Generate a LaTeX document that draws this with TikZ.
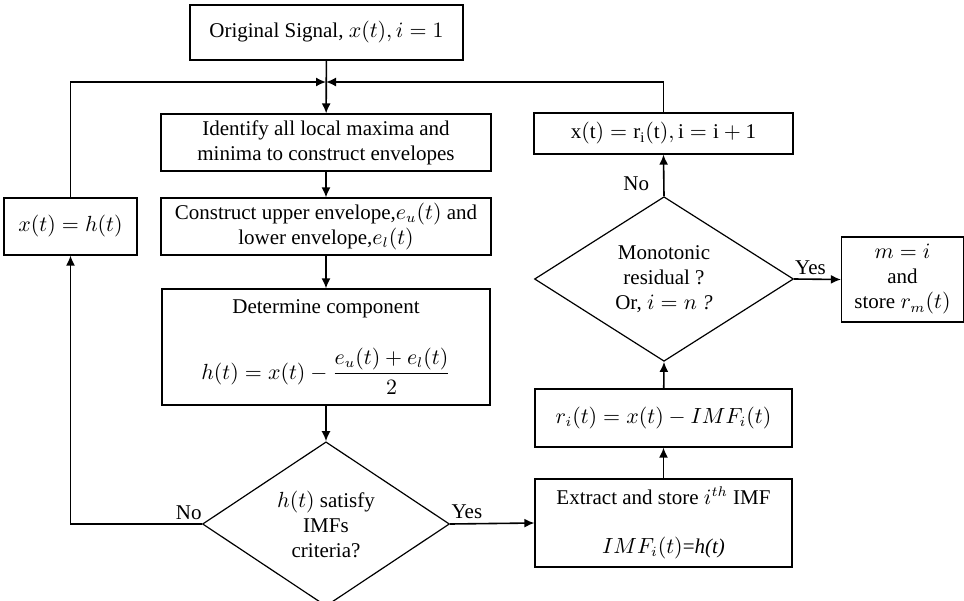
\documentclass[tikz,border=0pt]{standalone}
\usepackage{amsmath}
\usepackage{fontspec}
\setmainfont{Liberation Serif}
\usetikzlibrary{shapes.geometric,arrows.meta}

\tikzset{
    stepbox/.style={draw, line width=0.6pt, align=center, inner sep=2pt},
    decision/.style={draw, diamond, line width=0.6pt, align=center, inner sep=0pt},
    flow/.style={line width=0.8pt, -{Latex[length=5pt,width=4.5pt]}},
    answer/.style={inner sep=2pt}
}

\begin{document}
\begin{tikzpicture}[x=0.5pt, y=-0.5pt, font=\fontsize{10.5}{12.5}\selectfont]
    \useasboundingbox (0,0) rectangle (964,600);

    % Left column
    \node[stepbox, minimum width=136.5pt, minimum height=27.5pt] (orig) at (326.5,32.5) {Original Signal, $x(t), i = 1$};
    \node[stepbox, minimum width=165pt, minimum height=28.5pt] (ident) at (326,142.5) {Identify all local maxima and\\minima to construct envelopes};
    \node[stepbox, minimum width=165pt, minimum height=28.5pt] (envel) at (326,226.5) {Construct upper envelope,$e_u(t)$ and\\lower envelope,$e_l(t)$};
    \node[stepbox, minimum width=164pt, minimum height=58pt] (comp) at (326,347) {Determine component\\[14pt]$h(t) = x(t) - \dfrac{e_u(t) + e_l(t)}{2}$};
    \node[decision, minimum width=123.5pt, minimum height=73pt] (imfok) at (326,524) {$h(t)$ satisfy\\IMFs\\criteria?};
    \node[stepbox, minimum width=66.5pt, minimum height=28.5pt] (xh) at (70.5,226.5) {$x(t) = h(t)$};

    % Right column
    \node[stepbox, minimum width=128.5pt, minimum height=44pt] (extract) at (663.5,523) {Extract and store $i^{th}$ IMF\\[12pt]$IMF_i(t)$=\textit{h(t)}};
    \node[stepbox, minimum width=128.5pt, minimum height=29pt] (resid) at (663.5,418) {$r_i(t) = x(t) - IMF_i(t)$};
    \node[decision, minimum width=129.5pt, minimum height=82pt] (mono) at (664,279) {Monotonic\\residual ?\\Or, $i = n$ \textit{?}};
    \node[stepbox, minimum width=129.5pt, minimum height=20.5pt] (xr) at (663.5,133.5) {$\mathrm{x(t) = r_i(t), i = i + 1}$};
    \node[stepbox, minimum width=61pt, minimum height=42.5pt] (store) at (902.5,279.5) {$m = i$\\and\\store $r_m(t)$};

    \coordinate (join) at (326,82);

    % Connectors
    \draw[flow] (orig) -- (ident);
    \draw[flow] (ident) -- (envel);
    \draw[flow] (envel) -- (comp);
    \draw[flow] (comp) -- (imfok);
    \draw[flow] (imfok.west) -- node[answer, pos=0.1, above] {No} (imfok.west -| xh.south) -- (xh.south);
    \draw[flow] (xh.north) |- (join);
    \draw[flow] (imfok.east) -- node[answer, pos=0.2, above] {Yes} (extract.west);
    \draw[flow] (extract) -- (resid);
    \draw[flow] (resid) -- (mono.south);
    \draw[flow] (mono.north) -- node[answer, pos=0.3, left=5pt] {No} (xr.south);
    \draw[flow] (mono.east) -- node[answer, pos=0.35, above] {Yes} (store.west);
    \draw[flow] (xr.north) |- (join);
\end{tikzpicture}
\end{document}
